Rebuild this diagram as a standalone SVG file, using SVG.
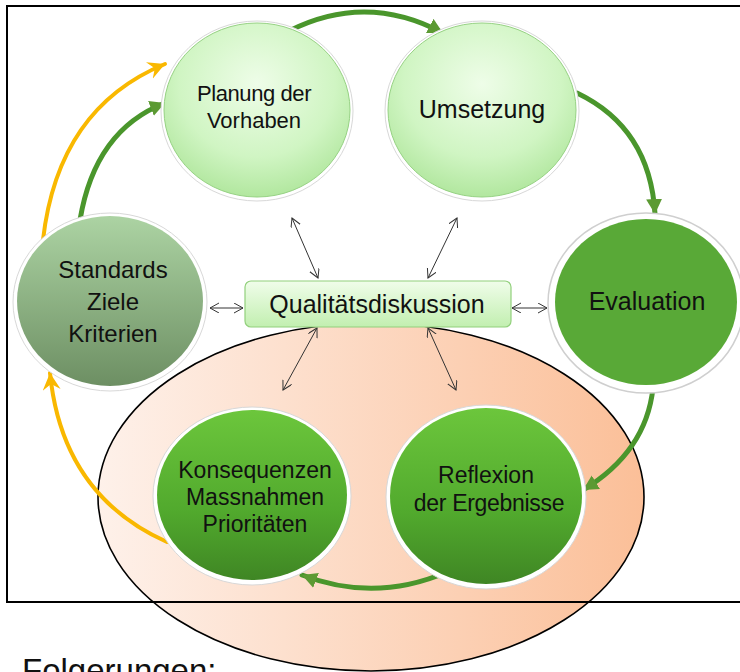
<svg xmlns="http://www.w3.org/2000/svg" width="740" height="672" viewBox="0 0 740 672">
<defs>
<style>
text{font-family:"Liberation Sans",Arial,sans-serif;fill:#111;text-anchor:middle}
.halo{fill:#fff;stroke:#d8d8d8;stroke-width:1}
.gline{fill:none;stroke:#4a962c;stroke-width:5;stroke-linecap:round}
.yline{fill:none;stroke:#f9b800;stroke-width:4;stroke-linecap:round}
.bline{fill:none;stroke:#333;stroke-width:1}
</style>
<linearGradient id="ellG" x1="0" y1="0" x2="1" y2="0">
<stop offset="0" stop-color="#fef1ea"/>
<stop offset="1" stop-color="#fbbf98"/>
</linearGradient>
<radialGradient id="lightG" cx="0.5" cy="0.35" r="0.7">
<stop offset="0" stop-color="#eefde8"/>
<stop offset="0.6" stop-color="#d0f5c3"/>
<stop offset="1" stop-color="#abe497"/>
</radialGradient>
<linearGradient id="greyG" x1="0" y1="0" x2="0" y2="1">
<stop offset="0" stop-color="#acd3a3"/>
<stop offset="1" stop-color="#6d8f63"/>
</linearGradient>
<linearGradient id="darkG" x1="0" y1="0" x2="0" y2="1">
<stop offset="0" stop-color="#6cc63c"/>
<stop offset="0.6" stop-color="#51a92d"/>
<stop offset="1" stop-color="#3f8624"/>
</linearGradient>
<linearGradient id="boxG" x1="0" y1="0" x2="0" y2="1">
<stop offset="0" stop-color="#f0fdea"/>
<stop offset="1" stop-color="#c2efb0"/>
</linearGradient>
<marker id="gArr" markerUnits="userSpaceOnUse" markerWidth="18" markerHeight="18" refX="15" refY="8" orient="auto">
<path d="M0,0 L15,8 L0,16 z" fill="#5c9a33"/>
</marker>
<marker id="yArr" markerUnits="userSpaceOnUse" markerWidth="20" markerHeight="20" refX="17" refY="9" orient="auto">
<path d="M0,0 L17,9 L0,18 L6,9 z" fill="#f9b800"/>
</marker>
<marker id="bArr" markerUnits="userSpaceOnUse" markerWidth="12" markerHeight="12" refX="9" refY="5" orient="auto-start-reverse">
<path d="M0,0 L9,5 L0,10" fill="none" stroke="#333" stroke-width="1"/>
</marker>
</defs>

<rect width="740" height="672" fill="#fff"/>

<g id="focus-area">
<ellipse cx="371" cy="497" rx="273" ry="174" fill="url(#ellG)" stroke="#000" stroke-width="1.6"/>
</g>

<rect id="frame" x="7" y="6" width="740" height="596" fill="none" stroke="#000" stroke-width="2"/>

<g id="connectors">
<path class="gline" d="M289 31 Q366 -8 443 33" marker-end="url(#gArr)"/>
<path class="gline" d="M577 93 Q650 128 655 214" marker-end="url(#gArr)"/>
<path class="gline" d="M653 388 Q646 452 583 490" marker-end="url(#gArr)"/>
<path class="gline" d="M447 572 Q375 603 302 575" marker-end="url(#gArr)"/>
<path class="gline" d="M80 220 Q95 130 165 103" marker-end="url(#gArr)"/>
<path class="yline" d="M167 542 Q62 495 50 373" marker-end="url(#yArr)"/>
<path class="yline" d="M43 240 Q58 108 165 64" marker-end="url(#yArr)"/>
<path class="bline" d="M292 218 L318 278" marker-start="url(#bArr)" marker-end="url(#bArr)"/>
<path class="bline" d="M457 218 L428 278" marker-start="url(#bArr)" marker-end="url(#bArr)"/>
<path class="bline" d="M210 308 L243 308" marker-start="url(#bArr)" marker-end="url(#bArr)"/>
<path class="bline" d="M512 308 L547 308" marker-start="url(#bArr)" marker-end="url(#bArr)"/>
<path class="bline" d="M317 328 L283 390" marker-start="url(#bArr)" marker-end="url(#bArr)"/>
<path class="bline" d="M428 328 L456 390" marker-start="url(#bArr)" marker-end="url(#bArr)"/>
</g>

<g id="planung">
<ellipse class="halo" cx="257" cy="111" rx="96" ry="90"/>
<ellipse cx="257" cy="110" rx="93" ry="87" fill="url(#lightG)" stroke="#96d283" stroke-width="1"/>
<text x="254" y="101" font-size="22" letter-spacing="-0.4">Planung der</text>
<text x="254" y="128" font-size="22">Vorhaben</text>
</g>

<g id="umsetzung">
<ellipse class="halo" cx="482" cy="111" rx="97" ry="90"/>
<ellipse cx="482" cy="110" rx="94" ry="87" fill="url(#lightG)" stroke="#96d283" stroke-width="1"/>
<text x="482" y="118" font-size="25">Umsetzung</text>
</g>

<g id="evaluation">
<ellipse cx="646" cy="303" rx="98" ry="90" fill="#fff" stroke="#cfcfcf" stroke-width="1.5"/>
<ellipse cx="646" cy="302" rx="91" ry="83" fill="#59a937"/>
<text x="647" y="310" font-size="25">Evaluation</text>
</g>

<g id="standards">
<ellipse class="halo" cx="110" cy="302" rx="97" ry="89"/>
<ellipse cx="110" cy="301" rx="93" ry="85" fill="url(#greyG)"/>
<text x="113" y="278" font-size="24">Standards</text>
<text x="113" y="310" font-size="24">Ziele</text>
<text x="113" y="342" font-size="24">Kriterien</text>
</g>

<g id="qualitaet">
<rect x="245" y="281" width="266" height="46" rx="6" fill="url(#boxG)" stroke="#92d07c" stroke-width="1.2"/>
<text x="377" y="313" font-size="25">Qualitätsdiskussion</text>
</g>

<g id="konsequenzen">
<ellipse class="halo" cx="252" cy="496" rx="99" ry="89"/>
<ellipse cx="252" cy="495" rx="95" ry="85" fill="url(#darkG)"/>
<text x="255" y="478" font-size="23">Konsequenzen</text>
<text x="255" y="505" font-size="23">Massnahmen</text>
<text x="255" y="532" font-size="23">Prioritäten</text>
</g>

<g id="reflexion">
<ellipse class="halo" cx="486" cy="497" rx="100" ry="92"/>
<ellipse cx="486" cy="496" rx="96" ry="88" fill="url(#darkG)"/>
<text x="486" y="483" font-size="23">Reflexion</text>
<text x="489" y="511" font-size="23" letter-spacing="-0.3">der Ergebnisse</text>
</g>

<text x="22" y="682" font-size="33" style="text-anchor:start">Folgerungen:</text>
</svg>
